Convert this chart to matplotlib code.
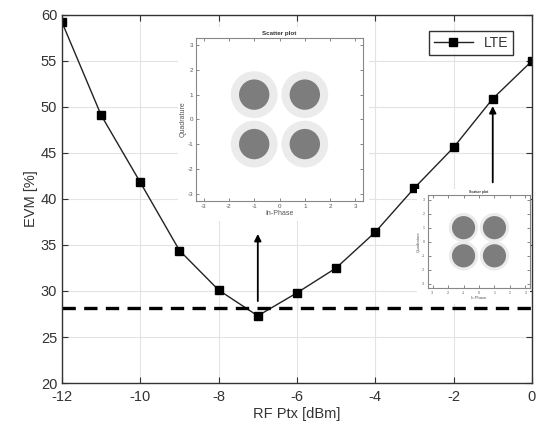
import numpy as np
import matplotlib.pyplot as plt

plt.rcParams['font.family'] = ['Liberation Sans', 'DejaVu Sans']
plt.rcParams['axes.unicode_minus'] = False

# main curve
ptx = [-12, -11, -10, -9, -8, -7, -6, -5, -4, -3, -2, -1, 0]
evm = [59.2, 49.1, 41.8, 34.4, 30.1, 27.3, 29.8, 32.5, 36.4, 41.2, 45.6, 50.9, 55.0]
evm_limit = 28.2

# constellation clusters for the insets (QPSK)
const_i = [-1, 1, -1, 1]
const_q = [1, 1, -1, -1]
# dense core / sparse halo diameters, symbol units (inset at -7 dBm, inset at -1 dBm)
core_diam = [1.2, 1.5]
halo_diam = [1.85, 1.9]

fig = plt.figure(figsize=(5.37, 4.34), dpi=100)
ax = fig.add_axes([0.1155, 0.1175, 0.875, 0.848])

ax.plot(ptx, evm, '-s', color='#222222', lw=1.0, ms=6, mfc='black', mec='black', label='LTE')
ax.axhline(evm_limit, color='black', ls=(0, (4, 2.5)), lw=2.4)

ax.set_xlim(-12, 0)
ax.set_ylim(20, 60)
ax.set_xticks(range(-12, 1, 2))
ax.set_yticks(range(20, 61, 5))
ax.grid(True, color='#e3e3e3', lw=0.8)
ax.tick_params(direction='in', labelsize=10.5, colors='#333333', length=4, top=True, right=True)
ax.tick_params(axis='x', pad=5)
for s in ax.spines.values():
    s.set_color('#333333')
    s.set_linewidth(1.0)
ax.set_xlabel('RF Ptx [dBm]', fontsize=10.5, color='#333333', labelpad=2)
ax.set_ylabel('EVM [%]', fontsize=10.5, color='#333333', labelpad=2)

leg = ax.legend(loc='upper right', fontsize=10, frameon=True, fancybox=False,
                handlelength=2.8, borderpad=0.35, bbox_to_anchor=(0.975, 0.975))
leg.get_frame().set_edgecolor('black')
leg.get_frame().set_linewidth(1.0)
leg.get_texts()[0].set_color('#333333')

# arrows
ax.annotate('', xy=(-7, 36.5), xytext=(-7, 28.6),
            arrowprops=dict(arrowstyle='-|>', color='black', lw=1.3, mutation_scale=10))
ax.annotate('', xy=(-1, 50.4), xytext=(-1, 41.5),
            arrowprops=dict(arrowstyle='-|>', color='black', lw=1.3, mutation_scale=10))


def inset(rect, bg, fs, k):
    w = fig.add_axes(bg)
    w.set_facecolor('white')
    w.set_xticks([])
    w.set_yticks([])
    for s in w.spines.values():
        s.set_visible(False)
    a = fig.add_axes(rect)
    ppu = rect[2] * 537 / 6.6 * 0.72   # points per symbol unit
    a.scatter(const_i, const_q, s=(halo_diam[k] * ppu) ** 2, color='#ebebeb', edgecolors='none')
    a.scatter(const_i, const_q, s=(core_diam[k] * ppu) ** 2, color='#7d7d7d', edgecolors='none')
    a.set_xlim(-3.3, 3.3)
    a.set_ylim(-3.3, 3.3)
    a.set_xticks(range(-3, 4))
    a.set_yticks(range(-3, 4))
    a.tick_params(direction='in', labelsize=fs, colors='#555555', length=2, width=0.5, pad=2,
                  top=True, right=True)
    for s in a.spines.values():
        s.set_color('#888888')
        s.set_linewidth(0.8)
    a.set_title('Scatter plot', fontsize=fs, fontweight='bold', color='#333333', pad=2)
    a.set_xlabel('In-Phase', fontsize=fs + 0.5, color='#555555', labelpad=1)
    a.set_ylabel('Quadrature', fontsize=fs + 0.5, color='#555555', labelpad=1)
    return a


inset([0.365, 0.537, 0.311, 0.376], [0.332, 0.49, 0.355, 0.447], 4.5, 0)
inset([0.797, 0.336, 0.190, 0.214], [0.777, 0.30, 0.21, 0.265], 2.5, 1)

fig.savefig('out.png', dpi=100)
